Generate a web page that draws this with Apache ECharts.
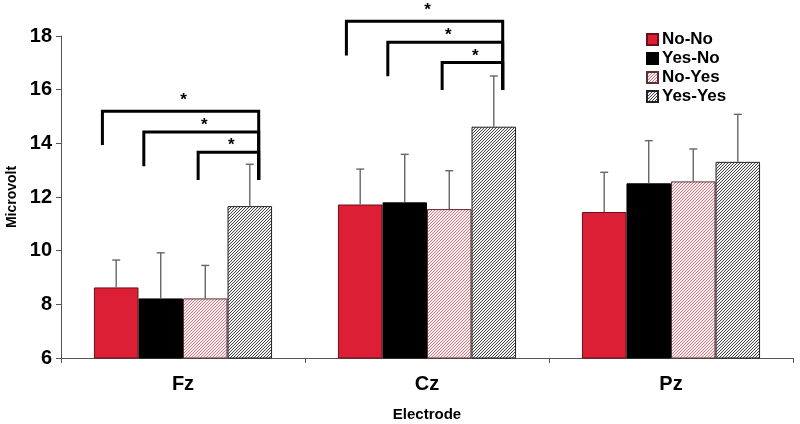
<!DOCTYPE html>
<html><head><meta charset="utf-8">
<script src="https://cdn.jsdelivr.net/npm/echarts@6/dist/echarts.min.js"></script>
<style>html,body{margin:0;padding:0;background:#fff}#c{width:800px;height:424px}</style>
</head><body><div id="c"></div>
<script>
// ---- data ----
const categories = ['Fz', 'Cz', 'Pz'];
const seriesNames = ['No-No', 'Yes-No', 'No-Yes', 'Yes-Yes'];
const noNo = [8.63, 11.72, 11.44];
const yesNo = [8.22, 11.80, 12.51];
const noYes = [8.22, 11.55, 12.58];
const yesYes = [11.66, 14.62, 13.31];
// top of error bars (mean + error)
const noNoErrTop = [9.65, 13.04, 12.92];
const yesNoErrTop = [9.92, 13.59, 14.10];
const noYesErrTop = [9.45, 12.98, 13.79];
const yesYesErrTop = [13.22, 16.51, 15.08];
// significance brackets: [categoryIndex, fromBar, toBar, level, leftLegBottom, rightLegBottom, label]
const brackets = [
  [0, 0, 3, 15.20, 13.94, 12.63, '*'],
  [0, 1, 3, 14.42, 13.15, 12.63, '*'],
  [0, 2, 3, 13.67, 12.63, 12.63, '*'],
  [1, 0, 3, 18.55, 17.27, 15.99, '*'],
  [1, 1, 3, 17.77, 16.50, 15.99, '*'],
  [1, 2, 3, 17.01, 15.99, 15.99, '*']
];
const yMin = 6, yMax = 18, yStep = 2;

// ---- styles ----
const FONT = '"Liberation Sans", Arial, sans-serif';
const CAT_GAP = 0.27;
const legOffset = [-0.31, -0.38, -0.16, 0.2]; // fraction of bar width from bar centre

function hatch(bg, fg) {
  const s = 3;
  const c = document.createElement('canvas');
  c.width = s; c.height = s;
  const g = c.getContext('2d');
  g.fillStyle = bg; g.fillRect(0, 0, s, s);
  g.fillStyle = fg;
  for (let i = 0; i < s; i++) g.fillRect(i, s - 1 - i, 1, 1);
  return {image: c, repeat: 'repeat'};
}

const barStyles = [
  {color: '#dc1f35', borderColor: '#6a1018', borderWidth: 1},
  {color: '#000000', borderColor: '#000000', borderWidth: 1},
  {color: hatch('#fbf0f0', '#d27a84'), borderColor: '#5a3035', borderWidth: 1},
  {color: hatch('#f4f4f4', '#444444'), borderColor: '#222222', borderWidth: 1}
];
const values = [noNo, yesNo, noYes, yesYes];
const errTops = [noNoErrTop, yesNoErrTop, noYesErrTop, yesYesErrTop];

const series = [];
seriesNames.forEach((n, k) => {
  series.push({
    name: n, type: 'bar', data: values[k],
    barGap: '0%', barCategoryGap: (CAT_GAP * 100) + '%',
    itemStyle: barStyles[k], emphasis: {disabled: true}, z: 2
  });
});
seriesNames.forEach((n, k) => {
  series.push({
    type: 'custom', name: n + ' err', z: 3, silent: true,
    data: categories.map((c, i) => [i, values[k][i], errTops[k][i]]),
    renderItem: function (params, api) {
      const base = api.coord([api.value(0), api.value(1)]);
      const top = api.coord([api.value(0), api.value(2)]);
      const bw = api.size([1, 0])[0] * (1 - CAT_GAP) / 4;
      const x = base[0] + (k - 1.5) * bw;
      const st = {stroke: '#666', lineWidth: 1.4};
      return {type: 'group', children: [
        {type: 'line', shape: {x1: x, y1: base[1], x2: x, y2: top[1]}, style: st},
        {type: 'line', shape: {x1: x - 4, y1: top[1], x2: x + 4, y2: top[1]}, style: st}
      ]};
    }
  });
});
series.push({
  type: 'custom', name: 'brackets', z: 4, silent: true, clip: false,
  data: brackets.map(b => b.slice(0, 6)),
  renderItem: function (params, api) {
    const b = brackets[params.dataIndex];
    const cat = api.value(0);
    const bw = api.size([1, 0])[0] * (1 - CAT_GAP) / 4;
    const c = api.coord([cat, api.value(3)]);
    const from = api.value(1), to = api.value(2);
    const xl = c[0] + (from - 1.5 + legOffset[from]) * bw;
    const xr = c[0] + (to - 1.5 + legOffset[to]) * bw;
    const yl = api.coord([cat, api.value(4)])[1];
    const yr = api.coord([cat, api.value(5)])[1];
    const up = params.dataIndex % 3 === 0 ? 4 : 0;
    return {type: 'group', children: [
      {type: 'polyline', shape: {points: [[xl, yl], [xl, c[1]], [xr, c[1]], [xr, yr]]},
       style: {stroke: '#000', lineWidth: 3, fill: null}},
      {type: 'text', x: (xl + xr) / 2 + 3, y: c[1] + 2 - up,
       style: {text: b[6], font: 'bold 17px ' + FONT, fill: '#000', align: 'center', verticalAlign: 'bottom'}}
    ]};
  }
});

const chart = echarts.init(document.getElementById('c'), null, {renderer: 'canvas'});
chart.setOption({
  backgroundColor: '#ffffff',
  animation: false,
  grid: {left: 61, right: 7, top: 36, bottom: 66, containLabel: false, outerBoundsMode: 'none'},
  legend: {
    data: seriesNames, orient: 'vertical', left: 641, top: 26,
    itemWidth: 11, itemHeight: 11, itemGap: 2, icon: 'rect',
    textStyle: {fontFamily: FONT, fontSize: 17, fontWeight: 'bold', color: '#000', padding: [0, 0, 0, -1]},
    selectedMode: false
  },
  xAxis: {
    type: 'category', data: categories,
    name: 'Electrode', nameLocation: 'middle', nameGap: 49,
    nameTextStyle: {fontFamily: FONT, fontSize: 15, fontWeight: 'bold', color: '#000'},
    axisLine: {lineStyle: {color: '#555', width: 1}},
    axisTick: {show: true, length: 5, lineStyle: {color: '#555'}},
    axisLabel: {fontFamily: FONT, fontSize: 20, fontWeight: 'bold', color: '#000', margin: 16}
  },
  yAxis: {
    type: 'value', min: yMin, max: yMax, interval: yStep,
    name: 'Microvolt', nameLocation: 'middle', nameGap: 41,
    nameTextStyle: {fontFamily: FONT, fontSize: 14, fontWeight: 'bold', color: '#000'},
    axisLine: {show: true, lineStyle: {color: '#555', width: 1}},
    axisTick: {show: true, length: 5, lineStyle: {color: '#555'}},
    splitLine: {show: false},
    axisLabel: {fontFamily: FONT, fontSize: 20, fontWeight: 'bold', color: '#000', margin: 9}
  },
  series: series
});
</script></body></html>
